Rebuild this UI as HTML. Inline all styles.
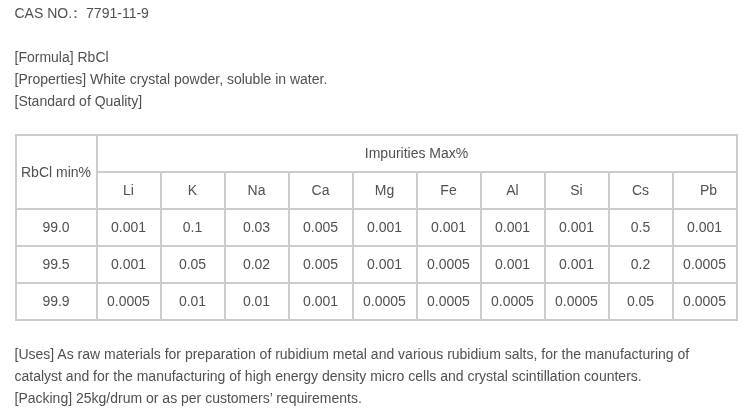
<!DOCTYPE html>
<html><head><meta charset="utf-8">
<style>
html,body{margin:0;padding:0;background:#fff;}
body{font-family:"Liberation Sans","Noto Sans CJK SC",sans-serif;font-size:14px;color:#505050;line-height:22px;}
.wrap{padding:2px 15px 0 15px;will-change:transform;}
p{margin:0;position:relative;left:-0.5px;}
.c{display:inline-block;transform:scale(1,0.85);transform-origin:4px 13px;}
table{border-collapse:separate;border-spacing:0;margin-top:22px;width:723px;table-layout:fixed;border:1px solid #ccc;}
td{border:1px solid #ccc;text-align:center;height:37px;padding:0 1px 1px 0;box-sizing:border-box;}
col.a{width:81px}col.b{width:64px}
</style></head><body><div class="wrap">
<p>CAS NO.<span class="c">：</span>7791-11-9</p>
<p><br></p>
<p>[Formula] RbCl</p>
<p>[Properties] White crystal powder, soluble in water.</p>
<p>[Standard of Quality]</p>
<table>
<colgroup><col class="a"><col class="b"><col class="b"><col class="b"><col class="b"><col class="b"><col class="b"><col class="b"><col class="b"><col class="b"><col class="b"></colgroup>
<tr><td rowspan="2" style="padding:0 1px 0 0">RbCl min%</td><td colspan="10">Impurities Max%</td></tr>
<tr><td>Li</td><td>K</td><td>Na</td><td>Ca</td><td>Mg</td><td>Fe</td><td>Al</td><td>Si</td><td>Cs</td><td style="padding-left:8px">Pb</td></tr>
<tr><td>99.0</td><td>0.001</td><td>0.1</td><td>0.03</td><td>0.005</td><td>0.001</td><td>0.001</td><td>0.001</td><td>0.001</td><td>0.5</td><td>0.001</td></tr>
<tr><td>99.5</td><td>0.001</td><td>0.05</td><td>0.02</td><td>0.005</td><td>0.001</td><td>0.0005</td><td>0.001</td><td>0.001</td><td>0.2</td><td>0.0005</td></tr>
<tr><td>99.9</td><td>0.0005</td><td>0.01</td><td>0.01</td><td>0.001</td><td>0.0005</td><td>0.0005</td><td>0.0005</td><td>0.0005</td><td>0.05</td><td>0.0005</td></tr>
</table>
<p style="margin-top:22px">[Uses] As raw materials for preparation of rubidium metal and various rubidium salts, for the manufacturing of catalyst and for the manufacturing of high energy density micro cells and crystal scintillation counters.</p>
<p>[Packing] 25kg/drum or as per customers’ requirements.</p>
</div></body></html>
